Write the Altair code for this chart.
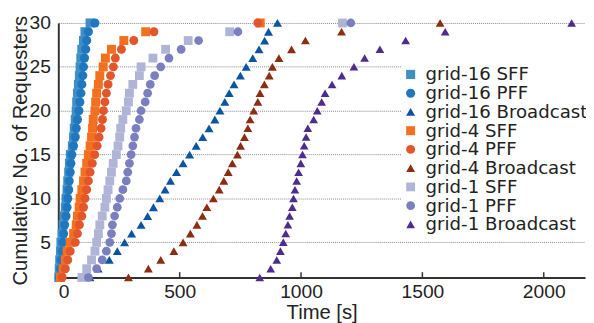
import altair as alt
import pandas as pd

series = ["grid-16 SFF", "grid-16 PFF", "grid-16 Broadcast",
          "grid-4 SFF", "grid-4 PFF", "grid-4 Broadcast",
          "grid-1 SFF", "grid-1 PFF", "grid-1 Broadcast"]
colors = ["#3f8fc5", "#1f77bf", "#0b53a3",
          "#f37021", "#e2562a", "#8a2d12",
          "#b0b4d6", "#7b7fc0", "#4e2b8f"]
shapes = ["square", "circle", "triangle-up"] * 3
sizes = [85, 78, 100] * 3

requesters = list(range(1, 31))

g16_sff = [2, 4, 6, 9, 11, 16, 20, 25, 29, 32, 36, 39, 43, 46, 50, 58, 63, 66, 70, 74, 76, 79, 83, 87, 90, 93, 97, 104, 110, 131]
g16_pff = [5, 9, 11, 16, 18, 22, 26, 32, 36, 39, 43, 45, 49, 52, 56, 63, 70, 74, 79, 85, 89, 93, 97, 101, 104, 108, 113, 117, 124, 151]
g16_bc = [130, 164, 210, 243, 273, 302, 341, 368, 392, 418, 440, 462, 487, 514, 541, 568, 595, 621, 645, 666, 686, 704, 724, 750, 774, 801, 827, 850, 866, 903]
g4_sff = [9, 20, 29, 36, 49, 63, 74, 79, 86, 90, 97, 104, 110, 117, 124, 131, 137, 141, 144, 151, 154, 158, 165, 171, 185, 194, 219, 270, 360, 832]
g4_pff = [16, 29, 39, 49, 70, 79, 87, 97, 104, 110, 117, 124, 131, 140, 150, 160, 168, 176, 182, 186, 192, 198, 205, 215, 227, 235, 260, 311, 394, 822]
g4_bc = [289, 371, 422, 476, 514, 544, 571, 594, 612, 639, 663, 682, 700, 717, 738, 751, 767, 781, 790, 805, 822, 831, 849, 869, 882, 909, 961, 1018, 1167, 1573]
g1_sff = [97, 117, 137, 151, 158, 165, 171, 181, 192, 198, 205, 212, 219, 226, 239, 246, 253, 257, 266, 280, 289, 293, 307, 334, 341, 390, 442, 535, 706, 1171]
g1_pff = [124, 158, 181, 198, 212, 219, 223, 232, 243, 253, 266, 280, 286, 293, 300, 307, 314, 320, 334, 341, 358, 368, 379, 397, 422, 456, 506, 578, 740, 1205]
g1_bc = [830, 875, 900, 915, 927, 937, 946, 953, 964, 969, 975, 982, 990, 999, 1006, 1013, 1021, 1028, 1052, 1067, 1085, 1099, 1128, 1168, 1218, 1262, 1325, 1431, 1594, 2115]

x_ticks = [0, 500, 1000, 1500, 2000]
y_ticks = [5, 10, 15, 20, 25, 30]

all_x = [g16_sff, g16_pff, g16_bc, g4_sff, g4_pff, g4_bc, g1_sff, g1_pff, g1_bc]
rows = []
for order, (name, xs) in enumerate(zip(series, all_x)):
    for k, t in zip(requesters, xs):
        rows.append({"series": name, "time": t, "requesters": k, "ord": order})
df = pd.DataFrame(rows)
ticks_df = pd.DataFrame({"t": x_ticks[1:]})

FONT = "Liberation Sans"
TXT = "#222222"

xscale = alt.Scale(domain=[0, 2170], nice=False, zero=False)
yscale = alt.Scale(domain=[1, 30], nice=False, zero=False)

points = alt.Chart(df).mark_point(filled=True, opacity=1, strokeWidth=0).encode(
    x=alt.X("time:Q", scale=xscale,
            axis=alt.Axis(values=x_ticks, format="d", title="Time [s]", grid=False, ticks=False,
                          labelFont=FONT, labelFontSize=19.5, labelColor=TXT, labelPadding=5,
                          titleFont=FONT, titleFontSize=20.5, titleFontWeight="normal",
                          titleColor=TXT, titlePadding=2,
                          domainColor="#333333", domainWidth=2)),
    y=alt.Y("requesters:Q", scale=yscale,
            axis=alt.Axis(values=y_ticks, title="Cumulative No. of Requesters", grid=True,
                          gridDash=[1, 1], gridColor="#888888", gridWidth=1, ticks=False,
                          labelFont=FONT, labelFontSize=19.5, labelColor=TXT, labelPadding=8,
                          titleFont=FONT, titleFontSize=20.5, titleFontWeight="normal",
                          titleColor=TXT, titlePadding=-1.5,
                          domainColor="#333333", domainWidth=2)),
    color=alt.Color("series:N", scale=alt.Scale(domain=series, range=colors),
                    legend=alt.Legend(title=None, orient="none", legendX=348, legendY=43,
                                      labelFont="DejaVu Sans", labelFontSize=18.4, labelColor=TXT,
                                      symbolSize=50, symbolStrokeWidth=0, symbolOpacity=1,
                                      labelOffset=6, rowPadding=0, padding=0,
                                      fillColor="white", labelLimit=400)),
    shape=alt.Shape("series:N", scale=alt.Scale(domain=series, range=shapes)),
    size=alt.Size("series:N", scale=alt.Scale(domain=series, range=sizes), legend=None),
    order=alt.Order("ord:Q"),
)

inner_ticks = alt.Chart(ticks_df).mark_rule(color="#333333", strokeWidth=1.5).encode(
    x=alt.X("t:Q", scale=xscale),
    y=alt.datum(1),
    y2=alt.datum(1.6),
)

chart = alt.layer(inner_ticks, points).properties(
    width=534, height=258,
    autosize=alt.AutoSizeParams(type="none"),
    padding={"left": 51, "top": 13, "right": 1, "bottom": 44},
    background="white",
).configure_view(stroke=None)

chart.save("out.html", embed_options={"renderer": "svg", "actions": False})
